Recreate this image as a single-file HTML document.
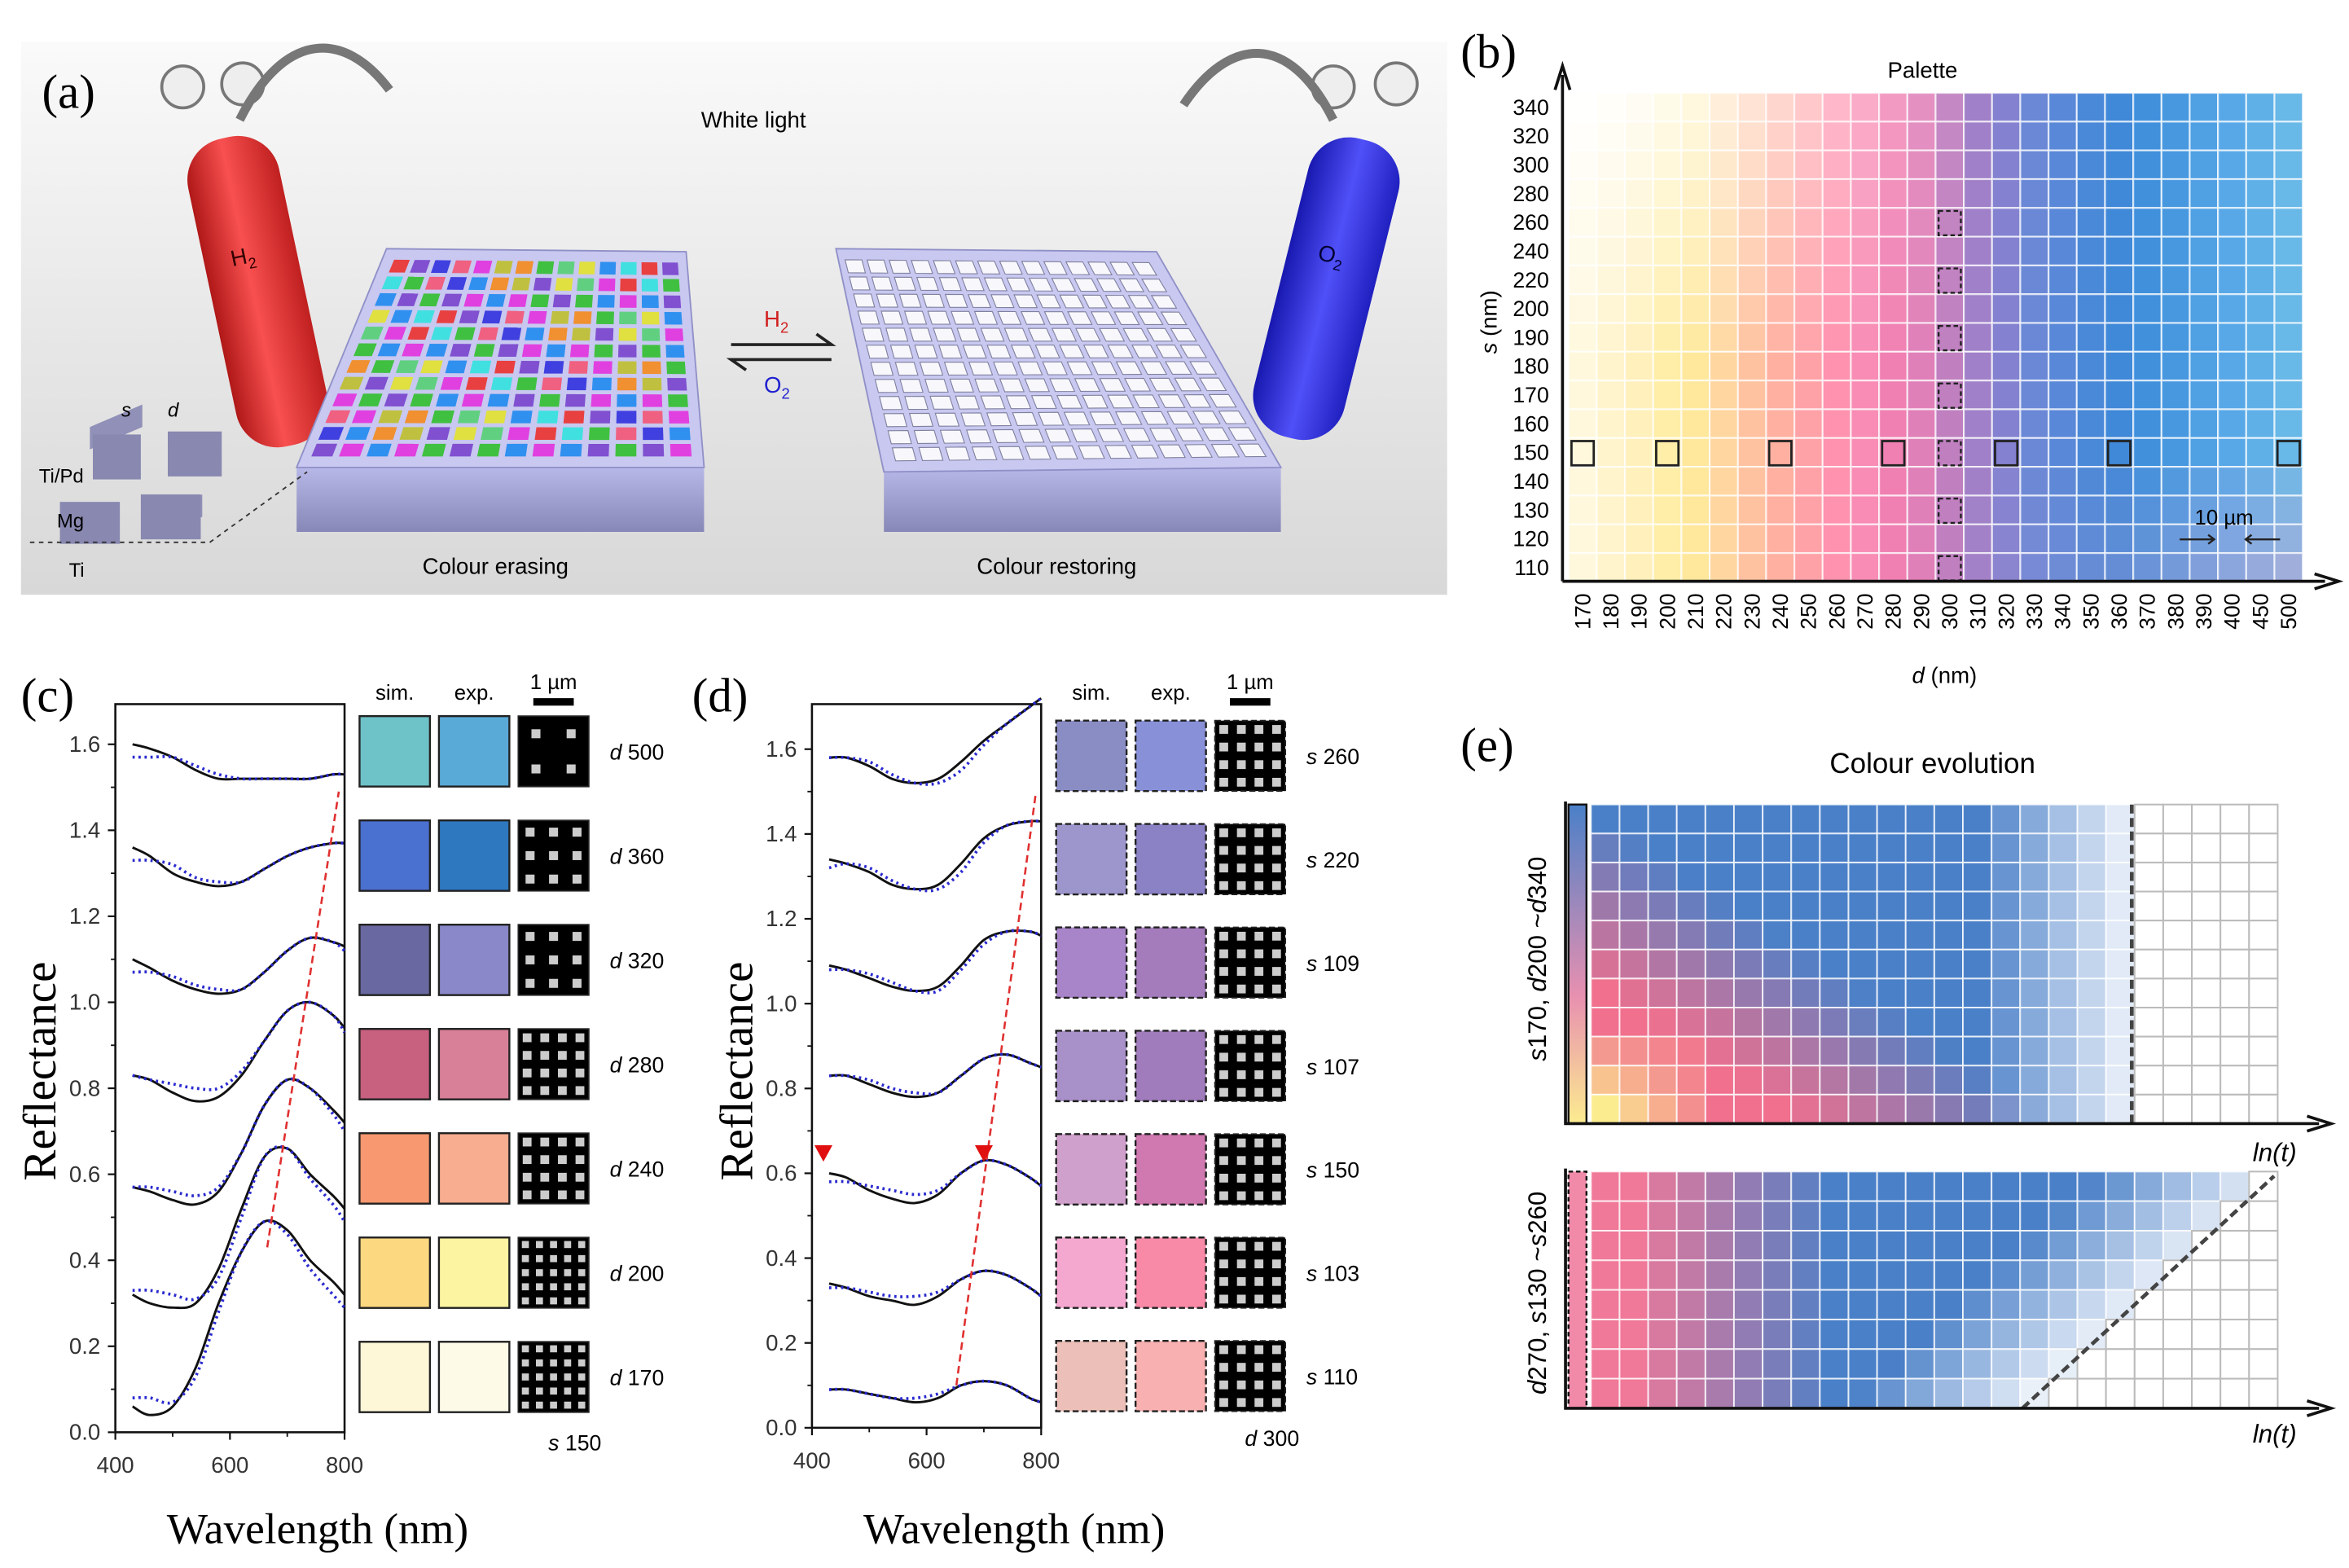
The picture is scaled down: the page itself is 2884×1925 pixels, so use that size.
<!DOCTYPE html>
<html><head><meta charset="utf-8">
<style>
html,body{margin:0;padding:0;background:#fff;}
svg{display:block;}
text{font-family:"Liberation Sans",sans-serif;}
.serif{font-family:"Liberation Serif",serif;}
</style></head>
<body>
<svg id="fig" xmlns="http://www.w3.org/2000/svg" width="2884" height="1925" viewBox="0 0 1568 1046.6" preserveAspectRatio="none">
<defs>
<linearGradient id="bgA" x1="0" y1="0" x2="0" y2="1"><stop offset="0" stop-color="#fafafa"/><stop offset="0.5" stop-color="#e8e8e8"/><stop offset="1" stop-color="#d8d8d8"/></linearGradient>
<linearGradient id="redCyl" x1="0" y1="0" x2="1" y2="0"><stop offset="0" stop-color="#b01818"/><stop offset="0.45" stop-color="#f85050"/><stop offset="1" stop-color="#c02020"/></linearGradient>
<linearGradient id="blueCyl" x1="0" y1="0" x2="1" y2="0"><stop offset="0" stop-color="#1818b0"/><stop offset="0.5" stop-color="#5050f8"/><stop offset="1" stop-color="#2020c0"/></linearGradient>
<linearGradient id="slabSide" x1="0" y1="0" x2="0" y2="1"><stop offset="0" stop-color="#b8b8e8"/><stop offset="1" stop-color="#8888b8"/></linearGradient>
<linearGradient id="evoBar" x1="0" y1="0" x2="0" y2="1"><stop offset="0" stop-color="#4a80c8"/><stop offset="0.6" stop-color="#e890b0"/><stop offset="1" stop-color="#fcec90"/></linearGradient>
</defs>

<!-- Panel (a) -->
<g>
<rect x="14" y="28" width="952" height="369" fill="url(#bgA)"/>
<text class="serif" x="28" y="72" font-size="32">(a)</text>
<text x="468" y="85" font-size="15">White light</text>
<g transform="rotate(-12 170 190)">
<rect x="140" y="90" width="62" height="210" rx="28" fill="url(#redCyl)"/>
<text x="158" y="175" font-size="15" fill="#300">H<tspan font-size="10" dy="4">2</tspan></text>
</g>
<circle cx="122" cy="58" r="14" fill="#eee" stroke="#777" stroke-width="2"/>
<circle cx="162" cy="56" r="14" fill="#eee" stroke="#777" stroke-width="2"/>
<path d="M160 80 C190 20 230 20 260 60" stroke="#777" stroke-width="6" fill="none"/>
<g transform="rotate(14 885 190)">
<rect x="855" y="90" width="62" height="205" rx="28" fill="url(#blueCyl)"/>
<text x="875" y="175" font-size="15" fill="#003">O<tspan font-size="10" dy="4">2</tspan></text>
</g>
<circle cx="890" cy="58" r="14" fill="#eee" stroke="#777" stroke-width="2"/>
<circle cx="932" cy="56" r="14" fill="#eee" stroke="#777" stroke-width="2"/>
<path d="M890 80 C860 20 820 25 790 70" stroke="#777" stroke-width="6" fill="none"/>
<polygon points="198,312 470,312 470,355 198,355" fill="url(#slabSide)"/>
<polygon points="258,166 458,168 470,312 198,312" fill="#c8c8f0" stroke="#9090c8"/>
<g id="leftGrid"></g>
<polygon points="590,315 855,312 855,355 590,355" fill="url(#slabSide)"/>
<polygon points="558,166 772,168 855,312 590,315" fill="#c8c8f0" stroke="#9090c8"/>
<g id="rightGrid"></g>
<text x="510" y="218" font-size="15" fill="#d02020">H<tspan font-size="10" dy="4">2</tspan></text>
<path d="M488 230 L555 230 L545 223" stroke="#222" stroke-width="2" fill="none"/>
<path d="M555 240 L488 240 L498 247" stroke="#222" stroke-width="2" fill="none"/>
<text x="510" y="262" font-size="15" fill="#2020d0">O<tspan font-size="10" dy="4">2</tspan></text>
<text x="282" y="383" font-size="15">Colour erasing</text>
<text x="652" y="383" font-size="15">Colour restoring</text>
<g>
<polygon points="60,300 95,285 95,270 60,285" fill="#9090b8"/>
<polygon points="95,360 135,345 135,330 95,345" fill="#9090b8"/>
<rect x="62" y="290" width="32" height="30" fill="#8888b0"/>
<rect x="112" y="288" width="36" height="30" fill="#8888b0"/>
<rect x="40" y="335" width="40" height="28" fill="#8888b0"/>
<rect x="94" y="330" width="40" height="30" fill="#8888b0"/>
<path d="M20 362 L140 362 L205 315" stroke="#333" stroke-dasharray="3,3" fill="none"/>
<text x="81" y="278" font-size="13" font-style="italic">s</text>
<text x="112" y="278" font-size="13" font-style="italic">d</text>
<text x="26" y="322" font-size="13">Ti/Pd</text>
<text x="38" y="352" font-size="13">Mg</text>
<text x="46" y="385" font-size="13">Ti</text>
</g>
</g>

<!-- Panel (b) -->
<g id="panelB">
<text class="serif" x="975" y="45" font-size="32">(b)</text>
<text x="1260" y="52" font-size="15">Palette</text>
<g id="palGrid"></g>
<g id="palAxes"></g>
<text transform="translate(999 215) rotate(-90)" font-size="15" text-anchor="middle"><tspan font-style="italic">s</tspan> (nm)</text>
<text x="1298" y="456" font-size="15" text-anchor="middle"><tspan font-style="italic">d</tspan> (nm)</text>
<text x="1465" y="350" font-size="14">10 µm</text>
<path d="M1455 360 L1478 360 M1474 357 L1478 360 L1474 363 M1522 360 L1499 360 M1503 357 L1499 360 L1503 363" stroke="#222" stroke-width="1.3" fill="none"/>
</g>

<!-- Panel (c) -->
<g id="panelC">
<text class="serif" x="14" y="475" font-size="32">(c)</text>
</g>
<!-- Panel (d) -->
<g id="panelD">
<text class="serif" x="462" y="475" font-size="32">(d)</text>
</g>

<!-- Panel (e) -->
<g id="panelE">
<text class="serif" x="975" y="508" font-size="32">(e)</text>
<text x="1290" y="516" font-size="19" text-anchor="middle">Colour evolution</text>
<g id="evoTop"></g>
<g id="evoBot"></g>
<text transform="translate(1032 640) rotate(-90)" font-size="17" text-anchor="middle"><tspan font-style="italic">s</tspan>170, <tspan font-style="italic">d</tspan>200 ~<tspan font-style="italic">d</tspan>340</text>
<text transform="translate(1032 863) rotate(-90)" font-size="17" text-anchor="middle"><tspan font-style="italic">d</tspan>270, <tspan font-style="italic">s</tspan>130 ~<tspan font-style="italic">s</tspan>260</text>
<text x="1533" y="775" font-size="17" font-style="italic" text-anchor="end">ln(t)</text>
<text x="1533" y="963" font-size="17" font-style="italic" text-anchor="end">ln(t)</text>
</g>
</svg>

<script>
// ---------- Spectral data (panels c, d) ----------
const wavelengths = [430,460,500,540,580,620,660,700,740,780,800];
const cLabels = ['d 500','d 360','d 320','d 280','d 240','d 200','d 170'];
const cExp = [
 [1.60,1.59,1.57,1.54,1.52,1.52,1.52,1.52,1.52,1.53,1.53],
 [1.36,1.34,1.30,1.28,1.27,1.28,1.31,1.34,1.36,1.37,1.37],
 [1.10,1.08,1.05,1.03,1.02,1.03,1.07,1.12,1.15,1.14,1.13],
 [0.83,0.82,0.79,0.77,0.78,0.83,0.91,0.98,1.00,0.97,0.94],
 [0.57,0.56,0.54,0.53,0.56,0.65,0.76,0.82,0.80,0.75,0.72],
 [0.32,0.30,0.29,0.30,0.38,0.52,0.64,0.66,0.60,0.55,0.52],
 [0.06,0.04,0.06,0.15,0.30,0.42,0.49,0.47,0.40,0.35,0.32]
];
const cSim = [
 [1.57,1.57,1.57,1.55,1.53,1.52,1.52,1.52,1.52,1.53,1.53],
 [1.33,1.33,1.32,1.29,1.28,1.28,1.31,1.34,1.36,1.37,1.37],
 [1.07,1.07,1.06,1.04,1.03,1.03,1.07,1.12,1.15,1.14,1.12],
 [0.83,0.82,0.81,0.80,0.80,0.84,0.91,0.98,1.00,0.97,0.93],
 [0.57,0.57,0.56,0.55,0.57,0.65,0.76,0.82,0.80,0.74,0.70],
 [0.33,0.33,0.32,0.31,0.36,0.50,0.64,0.66,0.59,0.53,0.49],
 [0.08,0.08,0.07,0.13,0.28,0.42,0.49,0.46,0.38,0.32,0.29]
];
const cSimColors = ['#6ec3c8','#4a70d0','#6a68a0','#c86080','#f89870','#fcd880','#fdf7d8'];
const cExpColors = ['#5aaad8','#2e78c0','#8a88c8','#d88098','#f8ac90','#fcf4a0','#fdfbe8'];
const cDots = [2,3,3,4,4,5,5];
const cTrend = [[665,0.43],[790,1.49]];

const dLabels = ['s 260','s 220','s 109','s 107','s 150','s 103','s 110'];
const dExp = [
 [1.58,1.58,1.56,1.53,1.52,1.53,1.57,1.62,1.66,1.70,1.72],
 [1.34,1.33,1.31,1.28,1.27,1.28,1.33,1.39,1.42,1.43,1.43],
 [1.09,1.08,1.06,1.04,1.03,1.04,1.09,1.15,1.17,1.17,1.16],
 [0.83,0.83,0.81,0.79,0.78,0.79,0.83,0.87,0.88,0.86,0.85],
 [0.60,0.59,0.56,0.54,0.53,0.55,0.60,0.63,0.62,0.59,0.57],
 [0.34,0.33,0.31,0.30,0.29,0.31,0.35,0.37,0.36,0.33,0.31],
 [0.09,0.09,0.08,0.07,0.06,0.07,0.10,0.11,0.10,0.07,0.06]
];
const dSim = [
 [1.58,1.58,1.57,1.54,1.52,1.52,1.55,1.61,1.66,1.70,1.72],
 [1.32,1.33,1.32,1.29,1.27,1.27,1.31,1.38,1.42,1.43,1.43],
 [1.08,1.08,1.07,1.05,1.03,1.03,1.08,1.14,1.17,1.17,1.16],
 [0.83,0.83,0.82,0.80,0.79,0.79,0.83,0.87,0.88,0.86,0.85],
 [0.58,0.58,0.57,0.56,0.55,0.56,0.60,0.63,0.62,0.59,0.57],
 [0.33,0.33,0.32,0.31,0.31,0.32,0.35,0.37,0.36,0.33,0.31],
 [0.09,0.09,0.08,0.07,0.07,0.08,0.10,0.11,0.10,0.07,0.06]
];
const dSimColors = ['#8a8cc4','#9c96cc','#a884c8','#a890c8','#d0a0cc','#f4a8d0','#ecc0b8'];
const dExpColors = ['#8890d8','#8a82c4','#a47cbc','#a07cbc','#d078b0','#f88aa8','#f8b0b0'];
const dTrend = [[652,0.10],[790,1.49]];
const dMarkers = [[420,0.645],[700,0.645]];

const yTicks = [0.0,0.2,0.4,0.6,0.8,1.0,1.2,1.4,1.6];
const xTicks = [400,600,800];

// ---------- Palette (panel b) ----------
const dValues = ['170','180','190','200','210','220','230','240','250','260','270','280','290','300','310','320','330','340','350','360','370','380','390','400','450','500'];
const sValues = ['340','320','300','280','260','240','220','200','190','180','170','160','150','140','130','120','110'];
const colColors = ['#fff8dc','#fff4cc','#fff0bc','#ffeea8','#ffe89c','#ffd6a0','#ffc2a0','#ffb0a0','#ffa2a8','#ff92ae','#f88cb4','#f080b2','#e080b8','#c080c0','#a080c8','#8482d0','#6a88d6','#5a88d8','#4a88d8','#4088d8','#4090dc','#4898e0','#50a0e4','#58a8e8','#60b0e8','#68b8e8'];
const solidMarked = ['170','200','240','280','320','360','500'];
const dashedMarked = ['260','220','190','170','150','130','110'];

const NS='http://www.w3.org/2000/svg';
function mk(tag, attrs, parent){const e=document.createElementNS(NS,tag);for(const k in attrs)e.setAttribute(k,attrs[k]);parent.appendChild(e);return e;}
function hex(c){return [parseInt(c.slice(1,3),16),parseInt(c.slice(3,5),16),parseInt(c.slice(5,7),16)];}
function mixRGB(a,b,t){t=Math.max(0,Math.min(1,t));const A=hex(a),B=hex(b);return A.map((v,i)=>Math.round(v+(B[i]-v)*t));}
function rgbStr(a){return 'rgb('+a.join(',')+')';}
function smooth(pts){let d='M'+pts[0][0]+' '+pts[0][1];for(let i=0;i<pts.length-1;i++){const p0=pts[Math.max(0,i-1)],p1=pts[i],p2=pts[i+1],p3=pts[Math.min(pts.length-1,i+2)];const c1=[p1[0]+(p2[0]-p0[0])/6,p1[1]+(p2[1]-p0[1])/6],c2=[p2[0]-(p3[0]-p1[0])/6,p2[1]-(p3[1]-p1[1])/6];d+=' C'+c1[0].toFixed(1)+' '+c1[1].toFixed(1)+' '+c2[0].toFixed(1)+' '+c2[1].toFixed(1)+' '+p2[0].toFixed(1)+' '+p2[1].toFixed(1);}return d;}

// ---------- Panel (a) grids ----------
(function(){
 const lg=document.getElementById('leftGrid'), rg=document.getElementById('rightGrid');
 const pal=['#e84040','#40c040','#4040e0','#e0e040','#e040e0','#40e0e0','#f09030','#8050d0','#60d080','#f06080','#3090f0','#c0c040'];
 function quad(P,u,v){const top=[P[0][0]+(P[1][0]-P[0][0])*u,P[0][1]+(P[1][1]-P[0][1])*u],bot=[P[3][0]+(P[2][0]-P[3][0])*u,P[3][1]+(P[2][1]-P[3][1])*u];return [top[0]+(bot[0]-top[0])*v,top[1]+(bot[1]-top[1])*v];}
 const L=[[262,172],[454,174],[464,306],[205,306]], R=[[562,172],[768,174],[848,306],[596,309]];
 const n=14,m=12;
 for(let i=0;i<n;i++)for(let j=0;j<m;j++){
  const g=0.12;
  const a=quad(L,(i+g)/n,(j+g)/m),b=quad(L,(i+1-g)/n,(j+g)/m),c=quad(L,(i+1-g)/n,(j+1-g)/m),d=quad(L,(i+g)/n,(j+1-g)/m);
  const p=mk('polygon',{points:[a,b,c,d].map(q=>q.join(',')).join(' '),fill:pal[(i*7+j*5+(i*j)%3)%pal.length]},lg);
  
  
  const a2=quad(R,(i+g)/n,(j+g)/m),b2=quad(R,(i+1-g)/n,(j+g)/m),c2=quad(R,(i+1-g)/n,(j+1-g)/m),d2=quad(R,(i+g)/n,(j+1-g)/m);
  const p2=mk('polygon',{points:[a2,b2,c2,d2].map(q=>q.join(',')).join(' '),fill:'#f8f8fc',stroke:'#8080a0','stroke-width':0.6},rg);
  
  
 }
})();

// ---------- Panel (b) ----------
(function(){
 const g=document.getElementById('palGrid'), ax=document.getElementById('palAxes');
 const x0=1047, cw=18.85, y0=62, rh=19.2;
 dValues.forEach((dv,i)=>{
  sValues.forEach((sv,j)=>{
   const base=colColors[i];
   const topFade=Math.max(0,(9-j)/9)*Math.max(0,(14-i)/14)*0.95;
   let col=mixRGB(base,'#ffffff',topFade);
   const botPink=Math.max(0,(j-12)/5)*Math.max(0,(i-13)/13)*0.55;
   col=col.map((v,k)=>Math.round(v+([240,160,200][k]-v)*botPink));
   const cell=mk('rect',{x:x0+i*cw,y:y0+j*rh,width:cw,height:rh,fill:rgbStr(col),stroke:'rgba(255,255,255,0.7)','stroke-width':1.2},g);
   
   
  });
  const t=mk('text',{transform:'translate('+(x0+i*cw+cw/2+5)+' 396) rotate(-90)','font-size':14.5,'text-anchor':'end'},ax);
  t.textContent=dv;
  
  
 });
 sValues.forEach((sv,j)=>{
  const t=mk('text',{x:1034,y:y0+j*rh+rh/2+5,'font-size':14.5,'text-anchor':'end'},ax);
  t.textContent=sv;
  
  
 });
 solidMarked.forEach(dv=>{
  const i=dValues.indexOf(dv), j=sValues.indexOf('150');
  const r=mk('rect',{x:x0+i*cw+2,y:y0+j*rh+2,width:cw-4,height:rh-3,fill:'none',stroke:'#222','stroke-width':1.5},ax);
  
  
 });
 dashedMarked.forEach(sv=>{
  const i=dValues.indexOf('300'), j=sValues.indexOf(sv);
  const r=mk('rect',{x:x0+i*cw+2,y:y0+j*rh+2,width:cw-4,height:rh-3,fill:'none',stroke:'#222','stroke-width':1.3,'stroke-dasharray':'3,2'},ax);
  
  
 });
 const a=mk('path',{d:'M1043 388 L1043 50 M1038 60 L1043 44 L1048 60 M1043 388 L1552 388 M1545 383 L1561 388 L1545 393',stroke:'#111','stroke-width':2,fill:'none'},ax);
 
 
})();

// ---------- Panels (c) & (d) ----------
function spectral(gid, px, bottom, yScale, exp, sim, labels, simCols, expCols, trend, dashed, dots, footer, markers, prefix){
 const g=document.getElementById(gid);
 const xs=w=>px+(w-400)/400*153;
 const ys=r=>bottom-r*yScale;
 const top=470;
 const box=mk('rect',{x:px,y:top,width:153,height:bottom-top,fill:'none',stroke:'#111','stroke-width':1.4},g);
 
 
 yTicks.forEach(v=>{
  const l=mk('line',{x1:px-5,x2:px,y1:ys(v),y2:ys(v),stroke:'#111','stroke-width':1.2},g);
  
  
  const t=mk('text',{x:px-10,y:ys(v)+5,'font-size':15,'text-anchor':'end',fill:'#333'},g);
  t.textContent=v.toFixed(1);
  
  
  if(v<1.6){const m=mk('line',{x1:px-3,x2:px,y1:ys(v+0.1),y2:ys(v+0.1),stroke:'#111'},g);
  
  }
 });
 xTicks.forEach(v=>{
  const l=mk('line',{x1:xs(v),x2:xs(v),y1:bottom,y2:bottom+5,stroke:'#111','stroke-width':1.2},g);
  
  
  const t=mk('text',{x:xs(v),y:bottom+27,'font-size':15,'text-anchor':'middle',fill:'#333'},g);
  t.textContent=String(v);
  
  
 });
 [500,700].forEach(v=>{const m=mk('line',{x1:xs(v),x2:xs(v),y1:bottom,y2:bottom+3,stroke:'#111'},g);
  
  });
 const yl=mk('text',{class:'serif',transform:'translate('+(px-40)+' 715) rotate(-90)','font-size':31,'text-anchor':'middle'},g);
 yl.textContent='Reflectance';
 
 
 const xl=mk('text',{class:'serif',x:px+135,y:1030,'font-size':29,'text-anchor':'middle'},g);
 xl.textContent='Wavelength (nm)';
 
 
 exp.forEach((row,k)=>{
  const p1=mk('path',{d:smooth(row.map((r,i)=>[xs(wavelengths[i]),ys(r)])),stroke:'#111','stroke-width':1.6,fill:'none'},g);
  
  
  const p2=mk('path',{d:smooth(sim[k].map((r,i)=>[xs(wavelengths[i]),ys(r)])),stroke:'#2a2ad0','stroke-width':2,'stroke-dasharray':'1.5,2.5',fill:'none'},g);
  
  
 });
 const tr=mk('line',{x1:xs(trend[0][0]),y1:ys(trend[0][1]),x2:xs(trend[1][0]),y2:ys(trend[1][1]),stroke:'#e03030','stroke-width':1.4,'stroke-dasharray':'5,3'},g);
 
 
 (markers||[]).forEach(m=>{const x=xs(m[0]),y=ys(m[1]);
  const tri=mk('polygon',{points:(x-6)+','+(y-6)+' '+(x+6)+','+(y-6)+' '+x+','+(y+5),fill:'#e01010'},g);
  
  });
 const sx=px+163, sw=47, gap=53;
 const hdr=[['sim.',sx+sw/2],['exp.',sx+gap+sw/2]];
 hdr.forEach(h=>{const t=mk('text',{x:h[1],y:467,'font-size':14,'text-anchor':'middle'},g);t.textContent=h[0];
  
  });
 const st=mk('text',{x:sx+2*gap+sw/2,y:460,'font-size':14,'text-anchor':'middle'},g);st.textContent='1 µm';
 
 
 const sb=mk('rect',{x:sx+2*gap+10,y:466,width:27,height:5,fill:'#000'},g);
 
 
 labels.forEach((lab,k)=>{
  const cy=(prefix==='c'?502:505)+k*(prefix==='c'?69.6:69);
  const y=cy-24;
  const extra=dashed?{'stroke-dasharray':'4,2'}:{};
  const a=mk('rect',Object.assign({x:sx,y:y,width:sw,height:47,fill:simCols[k],stroke:'#222','stroke-width':1.3},extra),g);
  
  
  const b=mk('rect',Object.assign({x:sx+gap,y:y,width:sw,height:47,fill:expCols[k],stroke:'#222','stroke-width':1.3},extra),g);
  
  
  const c=mk('rect',Object.assign({x:sx+2*gap,y:y,width:sw,height:47,fill:'#000',stroke:'#222'},extra),g);
  
  
  const n=dots[k], step=sw/n, ds=Math.min(6,step*0.5);
  for(let i=0;i<n;i++)for(let j=0;j<n;j++){
   const d=mk('rect',{x:sx+2*gap+step*(i+0.5)-ds/2,y:y+step*(j+0.5)-ds/2,width:ds,height:ds,fill:'#ccc'},g);
   
   
  }
  const t=mk('text',{x:sx+3*gap+8,y:cy+5,'font-size':14.5},g);
  t.innerHTML='<tspan font-style="italic">'+lab.split(' ')[0]+'</tspan> '+lab.split(' ')[1];
  
  
 });
 const f=mk('text',{x:sx+2*gap+20,y:bottom+12,'font-size':14.5},g);
 f.innerHTML='<tspan font-style="italic">'+footer[0]+'</tspan> '+footer[1];
 
 
}
spectral('panelC',77,956,287,cExp,cSim,cLabels,cSimColors,cExpColors,cTrend,false,cDots,['s','150'],null,'c');
spectral('panelD',542,953,283.1,dExp,dSim,dLabels,dSimColors,dExpColors,dTrend,true,[4,4,4,4,4,4,4],['d','300'],dMarkers,'d');

// ---------- Panel (e) ----------
(function(){
 const gt=document.getElementById('evoTop'), gb=document.getElementById('evoBot');
 const cw=19.1, x0=1062;
 const bar=mk('rect',{x:1047,y:537,width:12,height:213,fill:'url(#evoBar)',stroke:'#111','stroke-width':1.3},gt);
 
 
 const rows=11, rh=213/rows;
 for(let i=0;i<24;i++)for(let j=0;j<rows;j++){
  const t=Math.max(0,Math.min(1,(j/(rows-1))*1.7-i/9));
  let c=mixRGB('#4a80c8','#f0708e',t);
  if(i<4&&j>7){c=c.map((v,k)=>Math.round(v+([252,236,144][k]-v)*((j-7)/3)*(1-i/4)));}
  const fade=Math.max(0,Math.min(1,(i-13)/6));
  c=c.map(v=>Math.round(v+(255-v)*fade));
  const white=i>=19;
  const r=mk('rect',{x:x0+i*cw,y:537+j*rh,width:cw,height:rh,fill:white?'#fff':rgbStr(c),stroke:white?'#bbb':'rgba(255,255,255,0.75)','stroke-width':1.1},gt);
  
  
 }
 const dl=mk('line',{x1:1423,y1:537,x2:1423,y2:750,stroke:'#444','stroke-width':2.5,'stroke-dasharray':'6,3'},gt);
 
 
 const bar2=mk('rect',{x:1047,y:782,width:12,height:158,fill:'#f08aa8',stroke:'#111','stroke-width':1.3,'stroke-dasharray':'3,2'},gb);
 
 
 const rows2=8, rh2=158/rows2;
 for(let i=0;i<24;i++)for(let j=0;j<rows2;j++){
  const cx=x0+i*cw+cw/2, cy=782+j*rh2+rh2/2;
  const diagX=1350+(940-cy)/(940-785)*(1518-1350);
  let c=mixRGB('#f07898','#4a80c8',(i-1)/7);
  const dist=(diagX-cx)/120;
  const fade=Math.max(0,Math.min(1,1-dist));
  c=c.map(v=>Math.round(v+(255-v)*fade*0.9));
  const white=cx>diagX;
  const r=mk('rect',{x:x0+i*cw,y:782+j*rh2,width:cw,height:rh2,fill:white?'#fff':rgbStr(c),stroke:white?'#bbb':'rgba(255,255,255,0.75)','stroke-width':1.1},gb);
  
  
 }
 const dg=mk('line',{x1:1350,y1:940,x2:1518,y2:785,stroke:'#444','stroke-width':2.5,'stroke-dasharray':'6,3'},gb);
 
 
 const ax=mk('path',{d:'M1045 535 L1045 750 L1548 750 M1540 745 L1556 750 L1540 755 M1045 780 L1045 940 L1548 940 M1540 935 L1556 940 L1540 945',stroke:'#111','stroke-width':2,fill:'none'},gb);
 
 
})();
</script>
</body></html>
